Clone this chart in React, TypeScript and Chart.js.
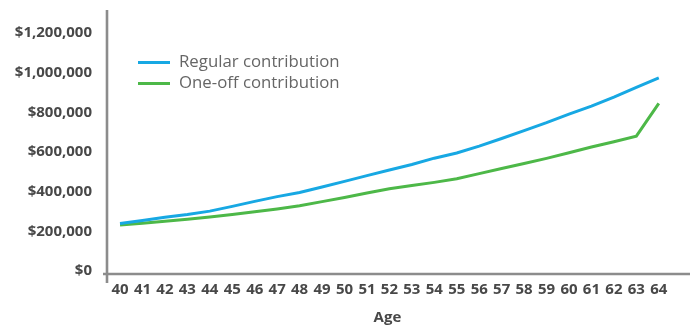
import React, { useEffect, useRef } from "react";
import { Chart, registerables } from "chart.js";

Chart.register(...registerables);

const ages = [40, 41, 42, 43, 44, 45, 46, 47, 48, 49, 50, 51, 52, 53, 54, 55, 56, 57, 58, 59, 60, 61, 62, 63, 64];
const regularContribution = [255000, 270000, 286000, 300000, 317000, 341000, 366000, 390000, 411000, 439000, 467000, 496000, 524000, 552000, 584000, 610000, 645000, 683000, 723000, 763000, 806000, 846000, 892000, 941000, 989000];
const oneOffContribution = [247000, 256000, 266000, 276000, 287000, 300000, 314000, 328000, 344000, 365000, 386000, 408000, 430000, 446000, 462000, 480000, 506000, 532000, 557000, 583000, 611000, 640000, 667000, 695000, 860000];
const yTickValues = [0, 200000, 400000, 600000, 800000, 1000000, 1200000];
const seriesNames = ["Regular contribution", "One-off contribution"];
const xTitle = "Age";

const BLUE = "#17a8e3";
const GREEN = "#4db848";
const AXIS = "#8c8c8c";
const TICK = "#484848";

const axesPlugin = {
  id: "customAxes",
  beforeDatasetsDraw(chart: any) {
    const { ctx, chartArea } = chart;
    ctx.save();
    ctx.strokeStyle = AXIS;
    ctx.lineWidth = 2.6;
    ctx.beginPath();
    ctx.moveTo(chartArea.left, chartArea.top);
    ctx.lineTo(chartArea.left, chartArea.bottom + 9);
    ctx.moveTo(chartArea.left - 4, chartArea.bottom);
    ctx.lineTo(chartArea.right, chartArea.bottom);
    ctx.stroke();
    const xs = chart.scales.x;
    const cx = (xs.getPixelForValue(ages[0]) + xs.getPixelForValue(ages[ages.length - 1])) / 2;
    ctx.fillStyle = TICK;
    ctx.font = "bold 15px 'Open Sans'";
    ctx.textAlign = "center";
    ctx.textBaseline = "middle";
    ctx.fillText(xTitle, cx - 2, 318);
    ctx.restore();
  },
};

export default function App() {
  const ref = useRef<HTMLCanvasElement>(null);
  useEffect(() => {
    if (!ref.current) return;
    const chart = new Chart(ref.current, {
      type: "line",
      data: {
        datasets: [
          {
            label: seriesNames[0],
            data: ages.map((a, i) => ({ x: a, y: regularContribution[i] })),
            borderColor: BLUE,
            backgroundColor: BLUE,
            borderWidth: 3,
            pointRadius: 0,
            tension: 0,
          },
          {
            label: seriesNames[1],
            data: ages.map((a, i) => ({ x: a, y: oneOffContribution[i] })),
            borderColor: GREEN,
            backgroundColor: GREEN,
            borderWidth: 3,
            pointRadius: 0,
            tension: 0,
          },
        ],
      },
      options: {
        animation: false,
        responsive: false,
        maintainAspectRatio: false,
        layout: { padding: { top: 10, right: 3, left: 0, bottom: 0 } },
        plugins: { legend: { display: false }, tooltip: { enabled: false } },
        scales: {
          x: {
            type: "linear",
            min: 39.42,
            max: 65.39,
            grid: { display: false, drawTicks: false },
            border: { display: false },
            afterFit: (s: any) => {
              s.height = 55;
              s.paddingLeft = 0;
              s.paddingRight = 0;
            },
            ticks: {
              stepSize: 1,
              includeBounds: false,
              autoSkip: false,
              maxRotation: 0,
              padding: 7,
              color: TICK,
              font: { family: "'Open Sans'", size: 15, weight: "bold" },
              callback: (v: any) => (v >= ages[0] && v <= ages[ages.length - 1] ? String(v) : ""),
            },
          },
          y: {
            min: 0,
            max: 1331000,
            grid: { display: false, drawTicks: false },
            border: { display: false },
            afterBuildTicks: (s: any) => {
              s.ticks = yTickValues.map((v) => ({ value: v }));
            },
            afterFit: (s: any) => {
              s.width = 107;
              s.paddingTop = 0;
              s.paddingBottom = 0;
            },
            ticks: {
              autoSkip: false,
              padding: 15,
              labelOffset: -3,
              color: TICK,
              font: { family: "'Open Sans'", size: 15, weight: "bold" },
              callback: (v: any) => "$" + Number(v).toLocaleString("en-US"),
            },
          },
        },
      },
      plugins: [axesPlugin],
    });
    return () => chart.destroy();
  }, []);

  const legendText: React.CSSProperties = {
    position: "absolute",
    left: 179,
    fontFamily: "'Open Sans'",
    fontSize: 16.8,
    color: "#666",
    lineHeight: "20px",
    whiteSpace: "nowrap",
  };
  const swatch: React.CSSProperties = { position: "absolute", left: 138, width: 32, height: 3 };

  return (
    <div style={{ position: "fixed", left: 0, top: 0, width: 693, height: 329, background: "#fff" }}>
      <canvas ref={ref} width={693} height={329} style={{ display: "block", width: 693, height: 329 }} />
      <div style={{ ...swatch, top: 61, background: BLUE }} />
      <div style={{ ...legendText, top: 51 }}>{seriesNames[0]}</div>
      <div style={{ ...swatch, top: 82, background: GREEN }} />
      <div style={{ ...legendText, top: 72 }}>{seriesNames[1]}</div>
    </div>
  );
}
